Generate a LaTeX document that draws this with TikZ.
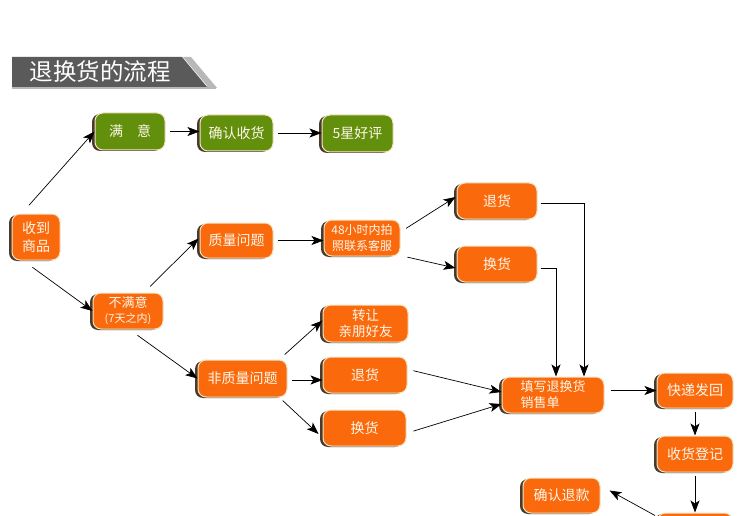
\documentclass[tikz,border=0pt]{standalone}
\usepackage{fontspec}
\setmainfont{Noto Sans CJK SC}
\usetikzlibrary{arrows.meta,calc,shadows}
\definecolor{boxorange}{HTML}{FA6A0C}
\definecolor{boxgreen}{HTML}{62900C}
\definecolor{boxedge}{HTML}{F4E4C4}
\definecolor{boxshadow}{HTML}{4A3A2A}
\definecolor{titlegray}{HTML}{5A5A5A}
\definecolor{titlelight}{HTML}{B8B8B8}
\definecolor{boxtext}{HTML}{FFF6EA}
\tikzset{
  basebox/.style={rounded corners=8pt, draw=boxedge, line width=1pt, text=boxtext,
    general shadow={shadow xshift=-3pt, shadow yshift=-1pt, fill=boxshadow},
    inner sep=0pt, align=center, font=\fontsize{14}{18}\selectfont},
  obox/.style={basebox, fill=boxorange},
  gbox/.style={basebox, fill=boxgreen},
  arr/.style={draw=black, line width=0.7pt, -{Stealth[length=12pt,width=9pt,inset=3pt]}, shorten <=3pt},
}
\begin{document}
\begin{tikzpicture}[x=1pt,y=-1pt]
\clip (0,0) rectangle (750,516);
\fill[white] (0,0) rectangle (750,516);
% title banner
\fill[titlelight] (12,86) rectangle (216,89);
\fill[titlelight] (183,57) -- (191,57) -- (217,88) -- (209,88) -- cycle;
\fill[titlegray] (12,57) -- (182,57) -- (207,87) -- (12,87) -- cycle;
\node[text=white, font=\fontsize{23.5}{26}\selectfont, anchor=west] (title) at (26,72) {退换货的流程};
% nodes
\node[gbox, minimum width=70pt, minimum height=37pt] (manyi) at (130,131.5) {满\quad 意};
\node[gbox, minimum width=73pt, minimum height=36pt] (queren) at (236.5,133) {确认收货};
\node[gbox, minimum width=71pt, minimum height=37pt] (wuxing) at (357.5,133.5) {5星好评};
\node[obox, minimum width=48pt, minimum height=46pt] (shoudao) at (36,237) {收到\\商品};
\node[obox, minimum width=73pt, minimum height=35pt] (zhiliang) at (236.5,240.5) {质量问题};
\node[obox, minimum width=76pt, minimum height=36pt, font=\fontsize{12}{16}\selectfont] (h48) at (362,238) {48小时内拍\\照联系客服};
\node[obox, minimum width=80pt, minimum height=36pt] (tuihuoa) at (497,201) {退货};
\node[obox, minimum width=80pt, minimum height=36pt] (huanhuoa) at (497,264) {换货};
\node[obox, minimum width=70pt, minimum height=36pt, font=\fontsize{13}{15}\selectfont] (bumanyi) at (128,311) {不满意\\{\fontsize{11}{13}\selectfont(7天之内)}};
\node[obox, minimum width=89pt, minimum height=37pt] (feizhiliang) at (242.5,378.5) {非质量问题};
\node[obox, minimum width=85pt, minimum height=37pt, font=\fontsize{13.5}{16}\selectfont] (zhuanrang) at (365.5,323.5) {转让\\亲朋好友};
\node[obox, minimum width=84pt, minimum height=36pt] (tuihuob) at (365,375) {退货};
\node[obox, minimum width=83pt, minimum height=36pt] (huanhuob) at (364.5,428) {换货};
\node[obox, minimum width=102pt, minimum height=36pt, align=left, font=\fontsize{13}{16}\selectfont] (tianxie) at (553,395) {填写退换货\\销售单};
\node[obox, minimum width=76pt, minimum height=35pt] (kuaidi) at (695,390.5) {快递发回};
\node[obox, minimum width=76pt, minimum height=36pt] (shouhuo) at (695,454) {收货登记};
\node[obox, minimum width=77pt, minimum height=35pt] (tuikuan) at (561.5,495.5) {确认退款};
\node[obox, minimum width=75pt, minimum height=36pt] (bottom) at (695,531) {};
% connectors
\draw[arr] ($(shoudao.north)+(-9,-6)$) -- (manyi.west);
\draw[arr] ($(shoudao.south)+(-6,5)$) -- (bumanyi.west);
\draw[arr, shorten <=4pt] (manyi.east) -- (manyi.east -| queren.west);
\draw[arr, shorten <=4pt] (queren.east) -- (queren.east -| wuxing.west);
\draw[arr] ($(bumanyi.north)+(20,-4)$) -- ($(zhiliang.west)+(-1,-2)$);
\draw[arr] ($(bumanyi.south)+(7,4)$) -- (feizhiliang.west);
\draw[arr, shorten <=4pt] (zhiliang.east) -- (zhiliang.east -| h48.west);
\draw[arr] ($(h48.east)+(3,-8)$) -- ($(tuihuoa.west)+(-1,-4)$);
\draw[arr] ($(h48.south east)+(4,0)$) -- ($(huanhuoa.west)+(-1,4)$);
\draw[arr, shorten <=0pt] ($(tuihuoa.east)+(3,2)$) -| ($(tianxie.north)+(31,0)$);
\draw[arr, shorten <=0pt] ($(huanhuoa.east)+(3,4)$) -| ($(tianxie.north)+(3,0)$);
\draw[arr] ($(feizhiliang.north east)+(-5,-3)$) -- ($(zhuanrang.west)+(0,-3)$);
\draw[arr, shorten <=4pt] ($(feizhiliang.east)+(0,1.5)$) -- ($(feizhiliang.east -| tuihuob.west)+(0,1.5)$);
\draw[arr] ($(feizhiliang.south east)+(-7,1)$) -- ($(huanhuob.west)+(-4,6)$);
\draw[arr] ($(tuihuob.east)+(3,-5)$) -- ($(tianxie.west)+(0,-3)$);
\draw[arr] ($(huanhuob.east)+(4,4)$) -- ($(tianxie.west)+(0,9)$);
\draw[arr] ($(tianxie.east)+(3,-4.5)$) -- (kuaidi.west);
\draw[arr] (kuaidi.south) -- (shouhuo.north);
\draw[arr] (shouhuo.south) -- (bottom.north);
\draw[arr, shorten <=0pt] ($(bottom.north west)+(-2,3)$) -- ($(tuikuan.east)+(9,-5)$);
\end{tikzpicture}
\end{document}
